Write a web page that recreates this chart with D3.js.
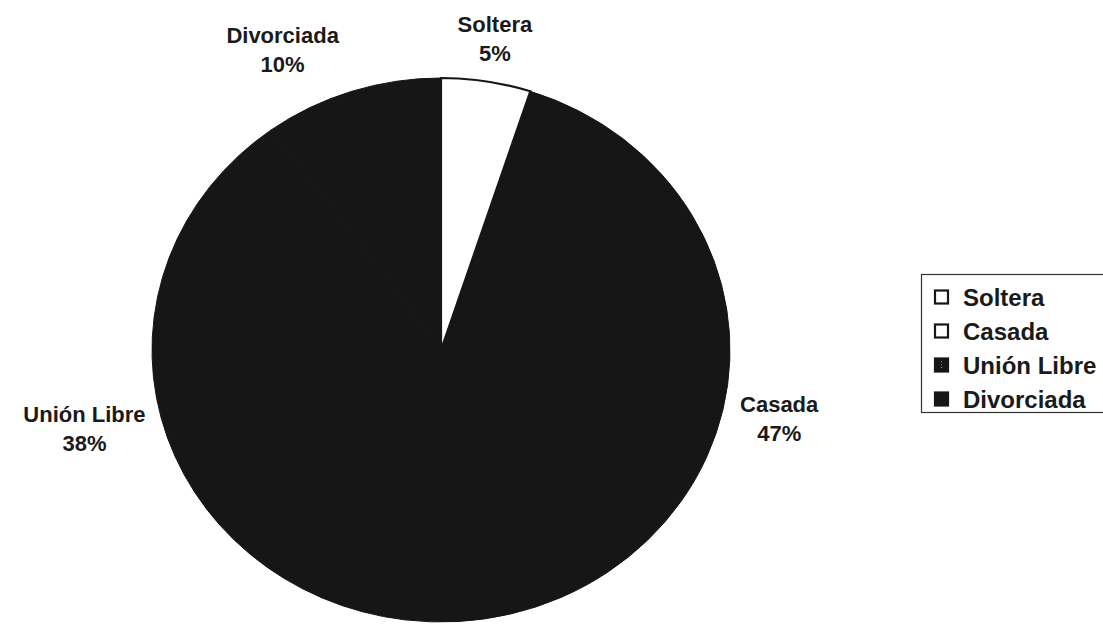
<!DOCTYPE html>
<html>
<head>
<meta charset="utf-8">
<script src="https://cdn.jsdelivr.net/npm/d3@7"></script>
<style>
html,body{margin:0;padding:0;background:#fff;}
svg{display:block;}
text{font-family:"Liberation Sans",Arial,sans-serif;font-weight:bold;fill:#1a1a1a;}
</style>
</head>
<body>
<svg id="chart" width="1103" height="625"></svg>
<script>
// ---- data ----
const categories = ["Soltera", "Casada", "Unión Libre", "Divorciada"];
const values = [5, 47, 38, 10];
const valueLabels = ["5%", "47%", "38%", "10%"];

// ---- style / layout ----
const sliceFill = ["#ffffff", "#161616", "#161616", "#161616"];
const W = 1103, H = 625;
const cx = 441, cy = 350, rx = 289, ry = 272;
const labelNudge = {"Divorciada": [-46, 0]};

const svg = d3.select("#chart");

const pie = d3.pie().sort(null).value(d => d.v).startAngle(0).endAngle(2 * Math.PI);
const data = categories.map((c, i) => ({c, v: values[i], lab: valueLabels[i], i}));
const arcs = pie(data);
const arc = d3.arc().innerRadius(0).outerRadius(rx);

const g = svg.append("g").attr("transform", `translate(${cx},${cy}) scale(1,${ry / rx})`);
// black slices first, white outlined slice on top
g.selectAll("path.s").data(arcs.filter(a => a.data.i !== 0)).join("path")
  .attr("class", "s").attr("d", arc)
  .attr("fill", d => sliceFill[d.data.i])
  .attr("stroke", "#161616").attr("stroke-width", 1)
  .attr("vector-effect", "non-scaling-stroke");
g.selectAll("path.w").data(arcs.filter(a => a.data.i === 0)).join("path")
  .attr("class", "w").attr("d", arc)
  .attr("fill", d => sliceFill[d.data.i])
  .attr("stroke", "#161616").attr("stroke-width", 2.2)
  .attr("stroke-linejoin", "miter")
  .attr("vector-effect", "non-scaling-stroke");

// ---- data labels ----
const fs = 22, lineH = 29, gap = 18;
const lg = svg.append("g");
arcs.forEach(a => {
  const mid = (a.startAngle + a.endAngle) / 2;
  const s = Math.sin(mid), c = Math.cos(mid);
  const t = lg.append("text").attr("font-size", fs).attr("text-anchor", "middle");
  t.append("tspan").attr("x", 0).attr("dy", 0).text(a.data.c);
  t.append("tspan").attr("x", 0).attr("dy", lineH).text(a.data.lab);
  const w = t.node().getBBox().width;
  const hh = (lineH + fs) / 2;
  const px = cx + s * (rx + gap), py = cy - c * (ry + gap);
  const n = labelNudge[a.data.c] || [0, 0];
  const bx = px + s * w / 2 + n[0];
  const by = py - c * hh + n[1];
  // center the two-line block vertically on by
  t.attr("transform", `translate(${bx},${by - lineH / 2 + fs * 0.36})`);
});

// ---- legend ----
const legX = 921, legY = 274, legW = 200, legH = 138;
const leg = svg.append("g");
leg.append("rect").attr("x", legX + 0.5).attr("y", legY + 0.5).attr("width", legW).attr("height", legH)
  .attr("fill", "#fff").attr("stroke", "#333").attr("stroke-width", 1.2);
const itemY = d3.scalePoint().domain(categories).range([legY + 23, legY + 125]);
const legendFill = ["#ffffff", "#ffffff", "#161616", "#161616"];
categories.forEach((c, i) => {
  const y = itemY(c);
  leg.append("rect").attr("x", 935).attr("y", y - 6.5).attr("width", 13).attr("height", 13)
    .attr("fill", legendFill[i]).attr("stroke", "#161616").attr("stroke-width", 2.2);
  if (i === 2) {
    leg.append("line").attr("x1", 941.5).attr("x2", 941.5).attr("y1", y - 4).attr("y2", y + 5)
      .attr("stroke", "#888").attr("stroke-width", 1).attr("stroke-dasharray", "1,2");
  }
  leg.append("text").attr("x", 963).attr("y", y).attr("dy", "0.36em")
    .attr("font-size", 24).text(c);
});
</script>
</body>
</html>
